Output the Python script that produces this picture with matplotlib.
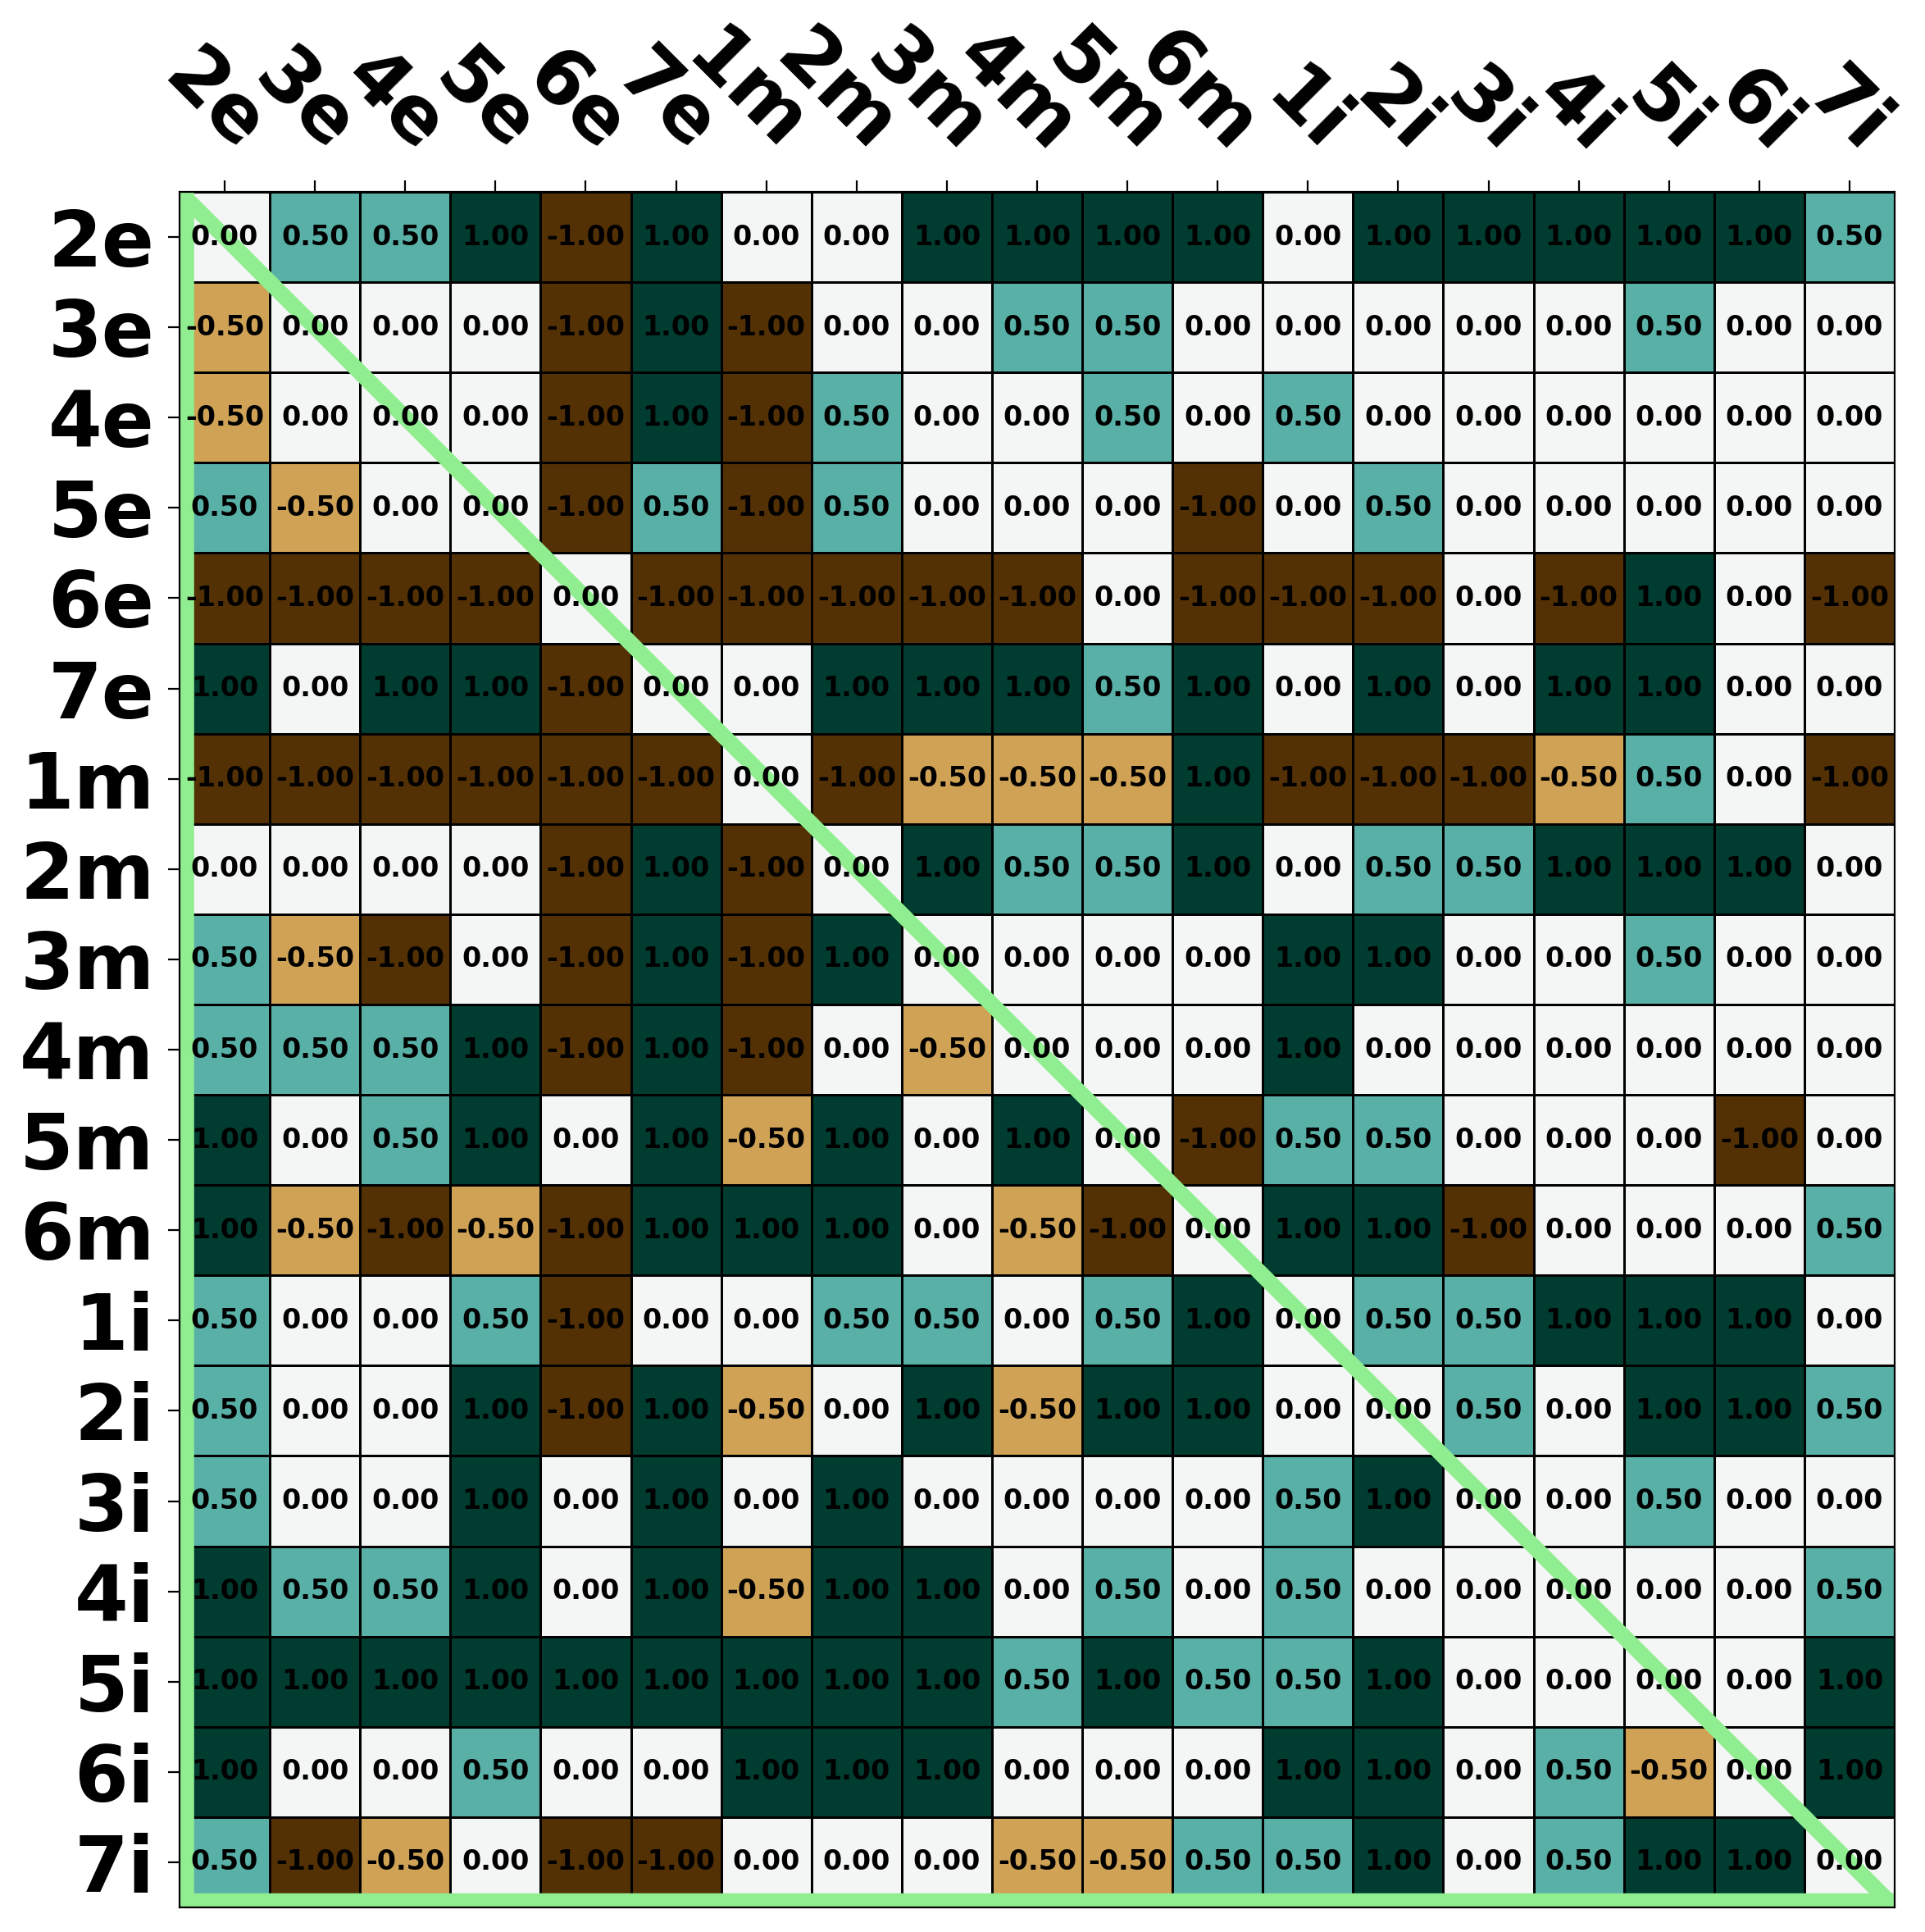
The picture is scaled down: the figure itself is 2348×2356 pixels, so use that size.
import numpy as np
import matplotlib
matplotlib.use("Agg")
import matplotlib.pyplot as plt
from matplotlib.patches import Rectangle

labels = ['2e', '3e', '4e', '5e', '6e', '7e', '1m', '2m', '3m', '4m', '5m', '6m',
          '1i', '2i', '3i', '4i', '5i', '6i', '7i']

row_2e = [0, 0.5, 0.5, 1, -1, 1, 0, 0, 1, 1, 1, 1, 0, 1, 1, 1, 1, 1, 0.5]
row_3e = [-0.5, 0, 0, 0, -1, 1, -1, 0, 0, 0.5, 0.5, 0, 0, 0, 0, 0, 0.5, 0, 0]
row_4e = [-0.5, 0, 0, 0, -1, 1, -1, 0.5, 0, 0, 0.5, 0, 0.5, 0, 0, 0, 0, 0, 0]
row_5e = [0.5, -0.5, 0, 0, -1, 0.5, -1, 0.5, 0, 0, 0, -1, 0, 0.5, 0, 0, 0, 0, 0]
row_6e = [-1, -1, -1, -1, 0, -1, -1, -1, -1, -1, 0, -1, -1, -1, 0, -1, 1, 0, -1]
row_7e = [1, 0, 1, 1, -1, 0, 0, 1, 1, 1, 0.5, 1, 0, 1, 0, 1, 1, 0, 0]
row_1m = [-1, -1, -1, -1, -1, -1, 0, -1, -0.5, -0.5, -0.5, 1, -1, -1, -1, -0.5, 0.5, 0, -1]
row_2m = [0, 0, 0, 0, -1, 1, -1, 0, 1, 0.5, 0.5, 1, 0, 0.5, 0.5, 1, 1, 1, 0]
row_3m = [0.5, -0.5, -1, 0, -1, 1, -1, 1, 0, 0, 0, 0, 1, 1, 0, 0, 0.5, 0, 0]
row_4m = [0.5, 0.5, 0.5, 1, -1, 1, -1, 0, -0.5, 0, 0, 0, 1, 0, 0, 0, 0, 0, 0]
row_5m = [1, 0, 0.5, 1, 0, 1, -0.5, 1, 0, 1, 0, -1, 0.5, 0.5, 0, 0, 0, -1, 0]
row_6m = [1, -0.5, -1, -0.5, -1, 1, 1, 1, 0, -0.5, -1, 0, 1, 1, -1, 0, 0, 0, 0.5]
row_1i = [0.5, 0, 0, 0.5, -1, 0, 0, 0.5, 0.5, 0, 0.5, 1, 0, 0.5, 0.5, 1, 1, 1, 0]
row_2i = [0.5, 0, 0, 1, -1, 1, -0.5, 0, 1, -0.5, 1, 1, 0, 0, 0.5, 0, 1, 1, 0.5]
row_3i = [0.5, 0, 0, 1, 0, 1, 0, 1, 0, 0, 0, 0, 0.5, 1, 0, 0, 0.5, 0, 0]
row_4i = [1, 0.5, 0.5, 1, 0, 1, -0.5, 1, 1, 0, 0.5, 0, 0.5, 0, 0, 0, 0, 0, 0.5]
row_5i = [1, 1, 1, 1, 1, 1, 1, 1, 1, 0.5, 1, 0.5, 0.5, 1, 0, 0, 0, 0, 1]
row_6i = [1, 0, 0, 0.5, 0, 0, 1, 1, 1, 0, 0, 0, 1, 1, 0, 0.5, -0.5, 0, 1]
row_7i = [0.5, -1, -0.5, 0, -1, -1, 0, 0, 0, -0.5, -0.5, 0.5, 0.5, 1, 0, 0.5, 1, 1, 0]

values = np.array([row_2e, row_3e, row_4e, row_5e, row_6e, row_7e, row_1m, row_2m,
                   row_3m, row_4m, row_5m, row_6m, row_1i, row_2i, row_3i, row_4i,
                   row_5i, row_6i, row_7i], dtype=float)

W, H, DPI = 2348, 2356, 200
fig = plt.figure(figsize=(W / DPI, H / DPI), dpi=DPI)
ax = fig.add_axes([219 / W, (H - 2326) / H, 2092 / W, 2092 / H])

n = len(labels)
edges = np.arange(n + 1) - 0.5
ax.pcolormesh(edges, edges, values, cmap='BrBG', vmin=-1, vmax=1,
              edgecolors='black', linewidth=1.0)
ax.set_xlim(-0.5, n - 0.5)
ax.set_ylim(n - 0.5, -0.5)

for i in range(n):
    for j in range(n):
        ax.text(j, i, f"{values[i, j]:.2f}", ha='center', va='center',
                fontsize=12, fontweight='bold', color='black')

ax.set_xticks(np.arange(n))
ax.set_yticks(np.arange(n))
ax.set_xticklabels(labels, fontsize=34, fontweight='bold')
ax.set_yticklabels(labels, fontsize=34, fontweight='bold')
ax.tick_params(top=True, bottom=False, labeltop=True, labelbottom=False,
               length=5, width=0.8)
ax.tick_params(axis='y', pad=6)
ax.tick_params(axis='x', pad=6)
plt.setp(ax.get_xticklabels(), rotation=-45, ha='right', rotation_mode='anchor')

for s in ax.spines.values():
    s.set_linewidth(0.8)

green = '#90ee90'
lo, hi = -0.5, n - 0.5
ax.plot([lo, lo], [lo, hi], color=green, lw=12.8, solid_capstyle='butt', zorder=2.5)
ax.plot([lo, hi], [hi, hi], color=green, lw=12.4, solid_capstyle='butt', zorder=2.5)
ax.plot([lo, hi], [lo, hi], color=green, lw=7.0, solid_capstyle='butt', zorder=2.5)

fig.savefig('out.png', dpi=DPI)
